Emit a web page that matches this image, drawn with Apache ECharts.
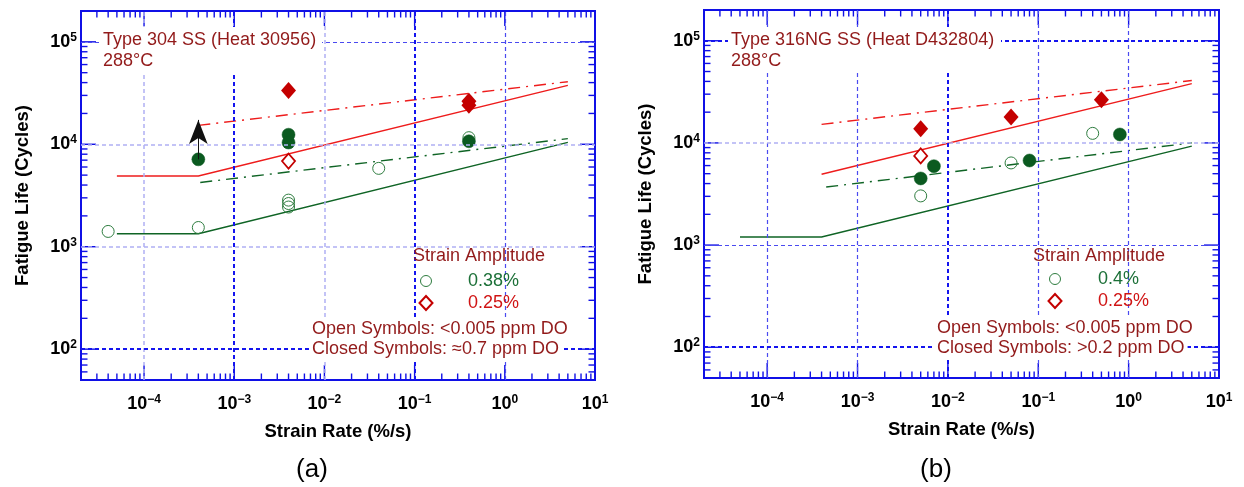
<!DOCTYPE html>
<html>
<head>
<meta charset="utf-8">
<script src="https://cdn.jsdelivr.net/npm/echarts@6/dist/echarts.min.js"></script>
<style>
html,body{margin:0;padding:0;background:#fff;}
#chart{width:1244px;height:487px;}
</style>
</head>
<body>
<div id="chart"></div>
<script>
// ---------------- DATA ----------------
// Panel (a): Type 304 SS (Heat 30956), 288 °C
const aOpenCircleX   = [4e-5, 4e-4, 4e-3, 4e-3, 4e-3, 0.04, 0.4];
const aOpenCircleY   = [1410, 1540, 2850, 2640, 2440, 5820, 11600];
const aClosedCircleX = [4e-4, 4e-3, 4e-3, 0.4];
const aClosedCircleY = [7130, 12400, 10400, 10700];
const aOpenDiamondX  = [4e-3];
const aOpenDiamondY  = [6850];
const aClosedDiamondX = [4e-3, 0.4, 0.4];
const aClosedDiamondY = [33500, 26300, 24000];
const aRedSolidX   = [5e-5, 4e-4, 5];
const aRedSolidY   = [4900, 4900, 37600];
const aRedDashX    = [4e-4, 5];
const aRedDashY    = [15300, 40800];
const aGreenSolidX = [5e-5, 4e-4, 5];
const aGreenSolidY = [1340, 1340, 10450];
const aGreenDashX  = [4.2e-4, 5];
const aGreenDashY  = [4240, 11350];
const aArrowX = [4e-4, 4e-4];
const aArrowY = [7130, 17300];

// Panel (b): Type 316NG SS (Heat D432804), 288 °C
const bOpenCircleX   = [5e-3, 0.05, 0.4];
const bOpenCircleY   = [3030, 6370, 12400];
const bClosedCircleX = [5e-3, 7e-3, 0.08, 0.8];
const bClosedCircleY = [4490, 5920, 6730, 12100];
const bOpenDiamondX  = [5e-3];
const bOpenDiamondY  = [7460];
const bClosedDiamondX = [5e-3, 0.05, 0.5];
const bClosedDiamondY = [13800, 17900, 26400];
const bRedSolidX   = [4e-4, 5];
const bRedSolidY   = [4940, 38100];
const bRedDashX    = [4e-4, 5];
const bRedDashY    = [15200, 40800];
const bGreenSolidX = [5e-5, 4e-4, 5];
const bGreenSolidY = [1200, 1200, 9300];
const bGreenDashX  = [4.5e-4, 5];
const bGreenDashY  = [3700, 10000];

// Axes
const xMin = 2e-5, xMax = 10;
const yMin = 50, yMax = 2e5;
const xDecades = [-5, -4, -3, -2, -1, 0, 1];
const yDecades = [1, 2, 3, 4, 5];
const minorMultipliers = [1, 2, 3, 4, 5, 6, 7, 8, 9];

// Texts
const titleA = 'Type 304 SS (Heat 30956)';
const titleB = 'Type 316NG SS (Heat D432804)';
const tempText = '288°C';
const legendHead = 'Strain Amplitude';
const ampA = ['0.38%', '0.25%'];
const ampB = ['0.4%', '0.25%'];
const openText = 'Open Symbols: <0.005 ppm DO';
const closedA = 'Closed Symbols: \u22480.7 ppm DO';
const closedB = 'Closed Symbols: >0.2 ppm DO';
const xName = 'Strain Rate (%/s)';
const yName = 'Fatigue Life (Cycles)';

// ---------------- STYLE ----------------
const FONT = '"Liberation Sans", Arial, sans-serif';
const BLUE = '#1010e6';
const DARKRED = '#921a1a';
const RED_LINE = '#ee1c1c';
const RED_MARK = '#c40000';
const GREEN_LINE = '#0f6425';
const GREEN_MARK = '#0b5a20';
const GREEN_OPEN = '#2f7d40';

const zip = (xs, ys) => xs.map((x, i) => [x, ys[i]]);

function tickData() {
  const d = [];
  xDecades.forEach(e => minorMultipliers.forEach(m => {
    const v = m * Math.pow(10, e);
    if (v >= xMin * 0.999 && v <= xMax * 1.001) d.push([v, 1000, 0, m === 1 ? 1 : 0]);
  }));
  yDecades.forEach(e => minorMultipliers.forEach(m => {
    const v = m * Math.pow(10, e);
    if (v >= yMin * 0.999 && v <= yMax * 1.001) d.push([1, v, 1, m === 1 ? 1 : 0]);
  }));
  return d;
}

function renderTick(params, api) {
  const cs = params.coordSys;
  const kind = api.value(2);
  const major = api.value(3);
  const len = major ? 15 : 6.5;
  const style = { stroke: BLUE, lineWidth: 1.4 };
  if (kind === 0) {
    const px = api.coord([api.value(0), api.value(1)])[0];
    return { type: 'group', children: [
      { type: 'line', shape: { x1: px, y1: cs.y + cs.height, x2: px, y2: cs.y + cs.height - len }, style },
      { type: 'line', shape: { x1: px, y1: cs.y, x2: px, y2: cs.y + len }, style }
    ]};
  } else {
    const py = api.coord([api.value(0), api.value(1)])[1];
    return { type: 'group', children: [
      { type: 'line', shape: { x1: cs.x, y1: py, x2: cs.x + len, y2: py }, style },
      { type: 'line', shape: { x1: cs.x + cs.width, y1: py, x2: cs.x + cs.width - len, y2: py }, style }
    ]};
  }
}

function powLabel(v) {
  const lg = Math.log10(v);
  const e = Math.round(lg);
  if (Math.abs(lg - e) > 1e-6) return '';
  return '{m|10}{s|' + (e < 0 ? '\u2212' + (-e) : String(e)) + '}';
}
const labelRich = {
  m: { fontFamily: FONT, fontSize: 18, fontWeight: 'bold', color: '#000' },
  s: { fontFamily: FONT, fontSize: 12, fontWeight: 'bold', color: '#000', padding: [0, 0, 9, 0] }
};

const G_DARK  = { color: '#1414ee', width: 2, type: [4, 3] };
const G_MID   = { color: '#4a4af0', width: 1.2, type: [4, 3] };
const G_LIGHT = { color: '#b0b0f4', width: 1.5, type: [4, 3] };

function gridLines(vx, hx) {
  return {
    silent: true, symbol: 'none', label: { show: false }, precision: 12,
    data: vx.map(([v, s]) => ({ xAxis: v, lineStyle: s }))
      .concat(hx.map(([v, s]) => ({ yAxis: v, lineStyle: s })))
  };
}

function panelSeries(idx, d) {
  const ax = { xAxisIndex: idx, yAxisIndex: idx };
  return [
    Object.assign({ type: 'line', data: [], z: 1, markLine: gridLines(d.vGrid, d.hGrid) }, ax),
    Object.assign({ type: 'custom', renderItem: renderTick, data: tickData(), encode: { x: 0, y: 1 }, clip: false, silent: true, z: 3 }, ax),
    Object.assign({ type: 'line', data: d.greenSolid, symbol: 'none', lineStyle: { color: GREEN_LINE, width: 1.4 }, z: 2, silent: true }, ax),
    Object.assign({ type: 'line', data: d.greenDash, symbol: 'none', lineStyle: { color: GREEN_LINE, width: 1.4, type: [12, 6, 2, 6] }, z: 2, silent: true }, ax),
    Object.assign({ type: 'line', data: d.redSolid, symbol: 'none', lineStyle: { color: RED_LINE, width: 1.4 }, z: 2, silent: true }, ax),
    Object.assign({ type: 'line', data: d.redDash, symbol: 'none', lineStyle: { color: RED_LINE, width: 1.4, type: [12, 6, 2, 6] }, z: 2, silent: true }, ax),
    Object.assign({ type: 'scatter', data: d.openCircle, symbol: 'circle', symbolSize: 12,
      itemStyle: { color: 'rgba(255,255,255,0)', borderColor: GREEN_OPEN, borderWidth: 1, opacity: 1 }, z: 4 }, ax),
    Object.assign({ type: 'scatter', data: d.closedCircle, symbol: 'circle', symbolSize: 13,
      itemStyle: { color: GREEN_MARK, borderColor: GREEN_MARK, borderWidth: 0.5, opacity: 1 }, z: 4,
      markLine: d.arrow ? {
        silent: true, symbol: ['none', 'arrow'], symbolSize: [14, 24], label: { show: false }, precision: 12,
        lineStyle: { color: '#111', width: 1, type: 'solid' },
        data: [[{ coord: d.arrow[0] }, { coord: d.arrow[1] }]]
      } : undefined }, ax),
    Object.assign({ type: 'scatter', data: d.openDiamond, symbol: 'diamond', symbolSize: [13, 15],
      itemStyle: { color: '#fff', borderColor: RED_MARK, borderWidth: 1.8, opacity: 1 }, z: 4 }, ax),
    Object.assign({ type: 'scatter', data: d.closedDiamond, symbol: 'diamond', symbolSize: [15, 17],
      itemStyle: { color: RED_MARK, opacity: 1 }, z: 4 }, ax)
  ];
}

const panelA = {
  openCircle: zip(aOpenCircleX, aOpenCircleY),
  closedCircle: zip(aClosedCircleX, aClosedCircleY),
  openDiamond: zip(aOpenDiamondX, aOpenDiamondY),
  closedDiamond: zip(aClosedDiamondX, aClosedDiamondY),
  redSolid: zip(aRedSolidX, aRedSolidY),
  redDash: zip(aRedDashX, aRedDashY),
  greenSolid: zip(aGreenSolidX, aGreenSolidY),
  greenDash: zip(aGreenDashX, aGreenDashY),
  arrow: zip(aArrowX, aArrowY),
  vGrid: [[1e-4, G_LIGHT], [1e-3, G_DARK], [1e-2, G_LIGHT], [1e-1, G_DARK], [1, G_MID]],
  hGrid: [[1e5, G_MID], [1e4, G_LIGHT], [1e3, G_LIGHT], [1e2, G_DARK]]
};
const panelB = {
  openCircle: zip(bOpenCircleX, bOpenCircleY),
  closedCircle: zip(bClosedCircleX, bClosedCircleY),
  openDiamond: zip(bOpenDiamondX, bOpenDiamondY),
  closedDiamond: zip(bClosedDiamondX, bClosedDiamondY),
  redSolid: zip(bRedSolidX, bRedSolidY),
  redDash: zip(bRedDashX, bRedDashY),
  greenSolid: zip(bGreenSolidX, bGreenSolidY),
  greenDash: zip(bGreenDashX, bGreenDashY),
  arrow: null,
  vGrid: [[1e-4, G_MID], [1e-3, G_MID], [1e-2, G_DARK], [1e-1, G_MID], [1, G_MID]],
  hGrid: [[1e5, G_DARK], [1e4, G_LIGHT], [1e3, G_MID], [1e2, G_DARK]]
};

function xAxisDef(idx) {
  return {
    type: 'log', logBase: 10, gridIndex: idx, min: xMin, max: xMax,
    name: xName, nameLocation: 'middle', nameGap: 42, nameMoveOverlap: false,
    nameTextStyle: { fontFamily: FONT, fontSize: 18.5, fontWeight: 'bold', color: '#000' },
    axisLine: { show: false }, axisTick: { show: false }, splitLine: { show: false }, minorTick: { show: false },
    axisLabel: { formatter: powLabel, rich: labelRich, margin: 14, showMinLabel: true, showMaxLabel: true, hideOverlap: false }
  };
}
function yAxisDef(idx) {
  return {
    type: 'log', logBase: 10, gridIndex: idx, min: yMin, max: yMax,
    name: yName, nameLocation: 'middle', nameGap: 49, nameRotate: 90, nameMoveOverlap: false,
    nameTextStyle: { fontFamily: FONT, fontSize: 18.5, fontWeight: 'bold', color: '#000' },
    axisLine: { show: false }, axisTick: { show: false }, splitLine: { show: false }, minorTick: { show: false },
    axisLabel: { formatter: powLabel, rich: labelRich, margin: 4, showMinLabel: true, showMaxLabel: true, hideOverlap: false }
  };
}

function txt(x, y, text, color, opts) {
  return Object.assign({
    type: 'text', z: 100, silent: true,
    style: Object.assign({ x, y, text, fill: color, font: '18px ' + FONT, verticalAlign: 'middle', align: 'left' }, opts || {})
  });
}
function legendGraphics(o) {
  const els = [];
  els.push(txt(o.headX, o.headY, legendHead, DARKRED));
  els.push({ type: 'circle', z: 100, silent: true, shape: { cx: o.symX, cy: o.row1, r: 5.5 },
    style: { fill: 'rgba(0,0,0,0)', stroke: GREEN_OPEN, lineWidth: 1 } });
  els.push(txt(o.valX, o.row1, o.amps[0], '#1c7038'));
  els.push({ type: 'polygon', z: 100, silent: true,
    shape: { points: [[o.symX, o.row2 - 7], [o.symX + 6.5, o.row2], [o.symX, o.row2 + 7], [o.symX - 6.5, o.row2]] },
    style: { fill: '#fff', stroke: RED_MARK, lineWidth: 2 } });
  els.push(txt(o.valX, o.row2, o.amps[1], '#d01414'));
  els.push(txt(o.noteX, o.note1, openText, DARKRED, { backgroundColor: '#fff', padding: [1, 3] }));
  els.push(txt(o.noteX, o.note2, o.closed, DARKRED, { backgroundColor: '#fff', padding: [1, 3] }));
  return els;
}

const graphics = [
  // annotation boxes (white backgrounds over grid lines)
  { type: 'rect', z: 99, silent: true, shape: { x: 99, y: 27, width: 223, height: 45 }, style: { fill: '#fff' } },
  { type: 'rect', z: 99, silent: true, shape: { x: 728, y: 27, width: 273, height: 45 }, style: { fill: '#fff' } },
  txt(103, 40, titleA, DARKRED),
  txt(103, 61, tempText, DARKRED),
  txt(731, 40, titleB, DARKRED),
  txt(731, 61, tempText, DARKRED),
  txt(312, 470, '(a)', '#000', { font: '26px ' + FONT, align: 'center' }),
  txt(936, 470, '(b)', '#000', { font: '26px ' + FONT, align: 'center' })
].concat(
  legendGraphics({ headX: 413, headY: 256, symX: 426, row1: 281, row2: 303, valX: 468, amps: ampA,
    noteX: 309, note1: 329, note2: 349, closed: closedA }),
  legendGraphics({ headX: 1033, headY: 256, symX: 1055, row1: 279, row2: 301, valX: 1098, amps: ampB,
    noteX: 934, note1: 328, note2: 348, closed: closedB })
);

const option = {
  backgroundColor: '#fff',
  animation: false,
  grid: [
    { left: 81, top: 11, width: 514, height: 369, show: true, borderColor: BLUE, borderWidth: 2, backgroundColor: 'transparent', containLabel: false, outerBoundsMode: 'none' },
    { left: 704, top: 10, width: 515, height: 368, show: true, borderColor: BLUE, borderWidth: 2, backgroundColor: 'transparent', containLabel: false, outerBoundsMode: 'none' }
  ],
  xAxis: [xAxisDef(0), xAxisDef(1)],
  yAxis: [yAxisDef(0), yAxisDef(1)],
  series: panelSeries(0, panelA).concat(panelSeries(1, panelB)),
  graphic: graphics
};

const chart = echarts.init(document.getElementById('chart'), null, { renderer: 'canvas' });
chart.setOption(option);
</script>
</body>
</html>
